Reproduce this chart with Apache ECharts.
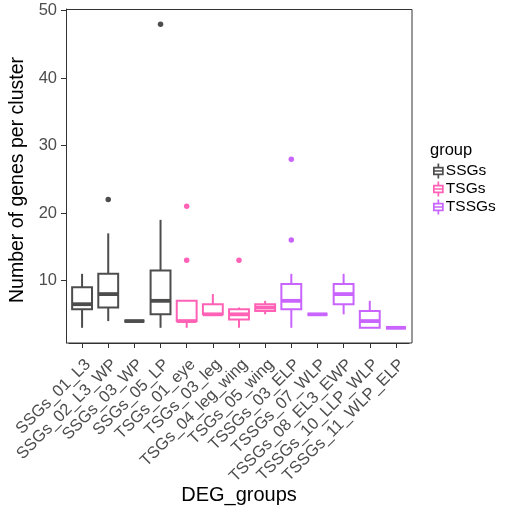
<!DOCTYPE html>
<html>
<head>
<meta charset="utf-8">
<script src="https://cdn.jsdelivr.net/npm/echarts@6/dist/echarts.min.js"></script>
<style>html,body{margin:0;padding:0;background:#fff;}#c{width:505px;height:512px;}</style>
</head>
<body>
<div id="c"></div>
<script>
const categories = ['SSGs_01_L3','SSGs_02_L3_WP','SSGs_03_WP','SSGs_05_LP','TSGs_01_eye','TSGs_03_leg','TSGs_04_leg_wing','TSGs_05_wing','TSSGs_03_ELP','TSSGs_07_WLP','TSSGs_08_EL3_EWP','TSSGs_10_LLP_WLP','TSSGs_11_WLP_ELP'];
const groupOf = ['SSGs','SSGs','SSGs','SSGs','TSGs','TSGs','TSGs','TSGs','TSSGs','TSSGs','TSSGs','TSSGs','TSSGs'];
const groupNames = ['SSGs','TSGs','TSSGs'];
const groupColors = ['#4D4D4D','#FF61B6','#C964FF'];
const lowerWhisker = [3, 4, 4, 3, 3, 5, 3, 5, 3, 5, 5, 3, 3];
const q1 = [5.75, 6, 4, 5, 4, 5, 4.25, 5.5, 5.75, 5, 6.5, 3, 3];
const medians = [6.5, 8, 4, 7, 4, 5, 5, 6, 7, 5, 8, 4, 3];
const q3 = [9, 11, 4, 11.5, 7, 6.5, 5.75, 6.5, 9.5, 5, 9.5, 5.5, 3];
const upperWhisker = [11, 17, 4, 19, 7, 8, 6, 7, 11, 5, 11, 7, 3];
const outlierCats = ['SSGs_02_L3_WP','SSGs_05_LP','TSGs_01_eye','TSGs_01_eye','TSGs_04_leg_wing','TSSGs_03_ELP','TSSGs_03_ELP'];
const outlierVals = [22, 48, 21, 13, 13, 16, 28];
const yTicks = [10, 20, 30, 40, 50];

const FONT = 'Liberation Sans, Arial, sans-serif';
const chart = echarts.init(document.getElementById('c'));

function renderBox(params, api) {
  const x = api.value(0);
  const pMin = api.coord([x, api.value(1)]);
  const pQ1 = api.coord([x, api.value(2)]);
  const pMed = api.coord([x, api.value(3)]);
  const pQ3 = api.coord([x, api.value(4)]);
  const pMax = api.coord([x, api.value(5)]);
  const bw = api.size([1, 0])[0] * 0.76;
  const cx = pMed[0];
  const color = api.visual('color');
  const lw = 2;
  return {
    type: 'group',
    children: [
      {type: 'line', shape: {x1: cx, y1: pMax[1], x2: cx, y2: pQ3[1]}, style: {stroke: color, lineWidth: lw}},
      {type: 'line', shape: {x1: cx, y1: pQ1[1], x2: cx, y2: pMin[1]}, style: {stroke: color, lineWidth: lw}},
      {type: 'rect', shape: {x: cx - bw / 2, y: pQ3[1], width: bw, height: pQ1[1] - pQ3[1]}, style: {fill: '#fff', stroke: color, lineWidth: lw}},
      {type: 'line', shape: {x1: cx - bw / 2, y1: pMed[1], x2: cx + bw / 2, y2: pMed[1]}, style: {stroke: color, lineWidth: 3.8, lineCap: 'butt'}}
    ]
  };
}

const series = [];
groupNames.forEach((g, gi) => {
  const data = [];
  categories.forEach((c, i) => {
    if (groupOf[i] === g) data.push([i, lowerWhisker[i], q1[i], medians[i], q3[i], upperWhisker[i]]);
  });
  series.push({
    name: g, type: 'custom', renderItem: renderBox, data: data,
    encode: {x: 0, y: [1, 2, 3, 4, 5]},
    itemStyle: {color: groupColors[gi]}, silent: true, z: 2
  });
});
groupNames.forEach((g, gi) => {
  const data = [];
  outlierCats.forEach((c, k) => {
    if (groupOf[categories.indexOf(c)] === g) data.push([c, outlierVals[k]]);
  });
  series.push({
    name: g + ' outliers', type: 'scatter', data: data, symbol: 'circle', symbolSize: 5.5,
    itemStyle: {color: groupColors[gi], opacity: 1}, silent: true, z: 3
  });
});

const iconPath = 'path://M4.2 0H5.8V3H4.2Z M0 3H10V4.6H0Z M0 3H1.6V11H0Z M8.4 3H10V11H8.4Z M0 6.2H10V7.8H0Z M0 9.4H10V11H0Z M4.2 11H5.8V14H4.2Z';

chart.setOption({
  animation: false,
  backgroundColor: '#fff',
  grid: {left: 69, right: 96, top: 9, bottom: 169, containLabel: false},
  xAxis: {
    type: 'category', data: categories,
    axisLine: {show: true, lineStyle: {color: '#333', width: 1}},
    axisTick: {show: true, alignWithLabel: true, length: 5, lineStyle: {color: '#333', width: 1}},
    axisLabel: {interval: 0, rotate: 45, fontSize: 16.5, color: '#4D4D4D', fontFamily: FONT, margin: 13, align: 'right', verticalAlign: 'top'},
    splitLine: {show: false}
  },
  yAxis: {
    type: 'value', min: 0.75, max: 50.25, offset: 3,
    axisLine: {show: true, lineStyle: {color: '#333', width: 1}},
    axisTick: {show: true, length: 5, customValues: yTicks, lineStyle: {color: '#333', width: 1}},
    axisLabel: {fontSize: 16.5, color: '#4D4D4D', fontFamily: FONT, margin: 9, customValues: yTicks},
    splitLine: {show: false}
  },
  legend: {
    orient: 'vertical', left: 428, top: 158, itemWidth: 11, itemHeight: 15, itemGap: 2,
    data: groupNames.map(n => ({name: n, icon: iconPath})),
    textStyle: {fontSize: 15.5, color: '#000', fontFamily: FONT, lineHeight: 15, padding: [0, 0, 0, -3]},
    selectedMode: false
  },
  graphic: [
    {type: 'rect', shape: {x: 66.5, y: 9.5, width: 345.5, height: 333.5}, style: {fill: 'none', stroke: '#333', lineWidth: 1}, z: 10, silent: true},
    {type: 'text', x: 18, y: 180, rotation: Math.PI / 2, style: {text: 'Number of genes per cluster', font: '19.5px ' + FONT, fill: '#000', align: 'center', verticalAlign: 'middle'}},
    {type: 'text', x: 239, y: 495, style: {text: 'DEG_groups', font: '20px ' + FONT, fill: '#000', align: 'center', verticalAlign: 'middle'}},
    {type: 'text', x: 430, y: 150, style: {text: 'group', font: '16.5px ' + FONT, fill: '#000', align: 'left', verticalAlign: 'middle'}}
  ],
  series: series
});
</script>
</body>
</html>
